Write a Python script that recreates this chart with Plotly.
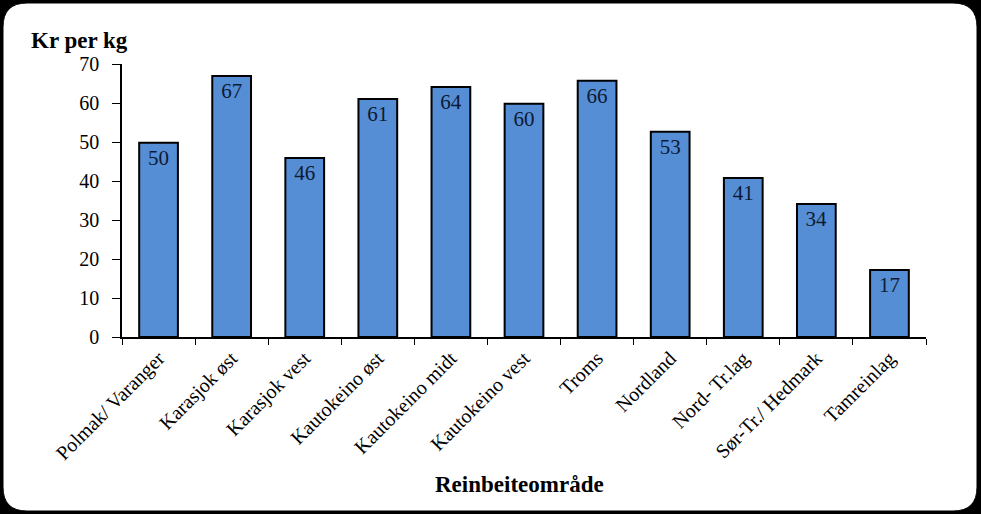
import plotly.graph_objects as go

categories = ["Polmak/ Varanger", "Karasjok øst", "Karasjok vest", "Kautokeino øst",
              "Kautokeino midt", "Kautokeino vest", "Troms", "Nordland",
              "Nord- Tr.lag", "Sør-Tr./ Hedmark", "Tamreinlag"]
values = [49.8, 66.9, 45.9, 61.0, 64.1, 59.8, 65.7, 52.6, 40.8, 34.1, 17.2]
labels = [str(round(v)) for v in values]
y_ticks = [0, 10, 20, 30, 40, 50, 60, 70]

W, H = 981, 514
L, R, T, B = 122, 55, 64, 177
pw, ph = W - L - R, H - T - B

def px(x):
    return (x - L) / pw

def py(y):
    return (H - B - y) / ph

fig = go.Figure(go.Bar(
    x=categories, y=values, text=labels,
    textposition="inside", insidetextanchor="end",
    textfont=dict(family="Liberation Serif", size=21, color="#0d1a33"),
    marker=dict(color="#558ED5", line=dict(color="black", width=2)),
    width=0.53,
))

# rounded white panel
x0, x1, y0, y1, r = 3, 977, 3, 511, 24
path = (f"M {px(x0+r)},{py(y0)} L {px(x1-r)},{py(y0)} "
        f"Q {px(x1)},{py(y0)} {px(x1)},{py(y0+r)} "
        f"L {px(x1)},{py(y1-r)} Q {px(x1)},{py(y1)} {px(x1-r)},{py(y1)} "
        f"L {px(x0+r)},{py(y1)} Q {px(x0)},{py(y1)} {px(x0)},{py(y1-r)} "
        f"L {px(x0)},{py(y0+r)} Q {px(x0)},{py(y0)} {px(x0+r)},{py(y0)} Z")
fig.add_shape(type="path", path=path, xref="paper", yref="paper",
              fillcolor="white", line=dict(color="black", width=1), layer="below")

fig.update_layout(
    width=W, height=H,
    margin=dict(l=L, r=R, t=T, b=B, pad=0),
    paper_bgcolor="black", plot_bgcolor="rgba(0,0,0,0)",
    font=dict(family="Liberation Serif", size=20, color="black"),
    showlegend=False,
    annotations=[
        dict(text="<b>Kr per kg</b>", x=px(29), y=py(40), xref="paper", yref="paper",
             xanchor="left", yanchor="middle", showarrow=False,
             font=dict(family="Liberation Serif", size=23, color="black")),
        dict(text="<b>Reinbeiteområde</b>", x=px(519), y=py(485), xref="paper", yref="paper",
             xanchor="center", yanchor="middle", showarrow=False,
             font=dict(family="Liberation Serif", size=23, color="black")),
    ],
)
fig.update_xaxes(
    type="category", range=[-0.5, 10.5], tickangle=-45,
    showline=True, linecolor="black", linewidth=1.5,
    ticks="outside", tickson="boundaries", ticklen=6, tickcolor="black", tickwidth=1,
    tickfont=dict(family="Liberation Serif", size=20, color="black"),
    showgrid=False,
)
fig.update_yaxes(
    range=[0, 70], tickvals=y_ticks, showline=True, linecolor="black", linewidth=1.5,
    ticks="outside", ticklen=8, tickcolor="black", tickwidth=1, ticklabelstandoff=9,
    tickfont=dict(family="Liberation Serif", size=20, color="black"),
    showgrid=False, zeroline=False,
)

fig.write_html("out.html")
